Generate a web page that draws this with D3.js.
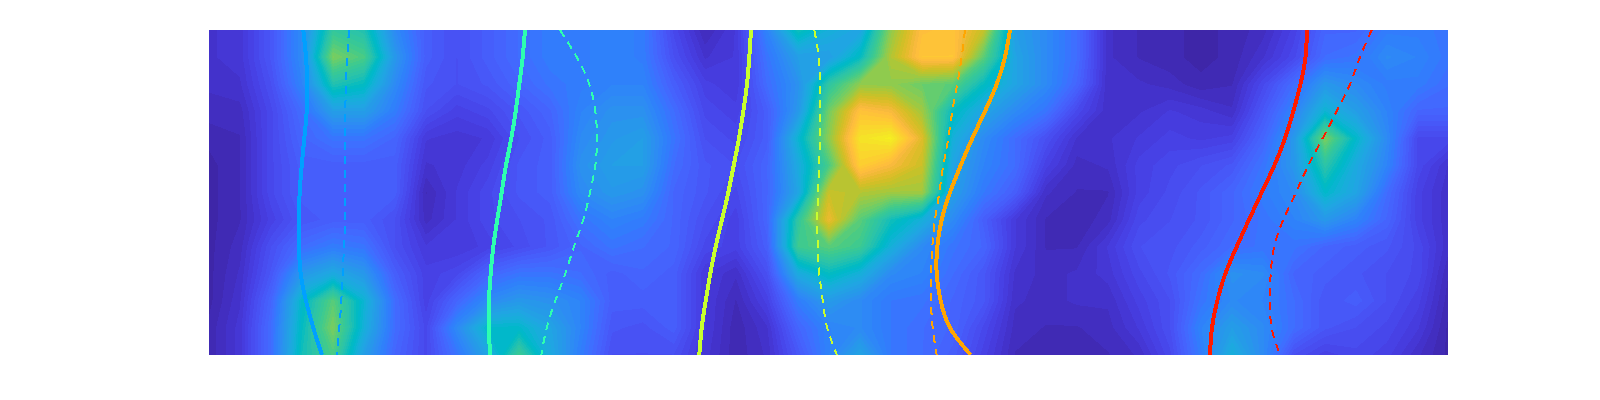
<!DOCTYPE html>
<html><head><meta charset="utf-8">
<script src="https://cdnjs.cloudflare.com/ajax/libs/d3/7.8.5/d3.min.js"></script>
<style>html,body{margin:0;padding:0;background:#fff}svg{display:block}</style>
</head><body><svg id="c" width="1600" height="400"></svg>
<script>
const parula=[[.2422,.1504,.6603],[.2504,.165,.7076],[.2578,.1818,.7511],[.2647,.1978,.7952],[.2706,.2147,.8364],[.2751,.2342,.871],[.2783,.2559,.8991],[.2803,.2782,.9221],[.2813,.3006,.9414],[.281,.3228,.9579],[.2795,.3447,.9717],[.276,.3667,.9829],[.2699,.3892,.9906],[.2602,.4123,.9952],[.244,.4358,.9988],[.2206,.4603,.9973],[.1963,.4847,.9892],[.1834,.5074,.9798],[.1786,.5289,.9682],[.1764,.5499,.952],[.1687,.5703,.9359],[.154,.5902,.9218],[.146,.6091,.9079],[.138,.6276,.8973],[.1248,.6459,.8883],[.1113,.6635,.8763],[.0952,.6798,.8598],[.0689,.6948,.8394],[.0297,.7082,.8163],[.0036,.7203,.7917],[.0067,.7312,.766],[.0433,.7411,.7394],[.0964,.75,.712],[.1408,.7584,.6842],[.1717,.767,.6554],[.1938,.7758,.6251],[.2161,.7843,.5923],[.247,.7918,.5567],[.2906,.7973,.5188],[.3406,.8008,.4789],[.3909,.8029,.4354],[.4456,.8024,.3909],[.5044,.7993,.348],[.5616,.7942,.3045],[.6174,.7876,.2612],[.672,.7793,.2227],[.7242,.7698,.191],[.7738,.7598,.1646],[.8203,.7498,.1535],[.8634,.7406,.1596],[.9035,.733,.1774],[.9393,.7288,.21],[.9728,.7298,.2394],[.9956,.7434,.2371],[.997,.7659,.2199],[.9952,.7893,.2028],[.9892,.8136,.1885],[.9786,.8386,.1766],[.9676,.8639,.1643],[.961,.889,.1537],[.9597,.9135,.1423],[.9628,.9373,.1265],[.9691,.9606,.1064],[.9769,.9839,.0805]];

const heatColumns=[
[6,6,5,4,2,1,1,1,1,1,1,2,2],
[7,7,6,4,3,3,3,3,4,5,6,7,7],
[16,16,14,12,12,12,12,10,14,16,20,22,22],
[30,30,28,22,20,18,18,16,22,34,46,48,50],
[56,66,52,36,24,18,18,18,26,40,62,66,60],
[52,60,48,36,24,18,18,18,24,34,44,42,36],
[30,34,30,26,20,18,18,14,14,18,22,22,20],
[18,18,16,14,8,6,3,4,8,10,10,12,12],
[14,14,14,10,7,7,8,8,8,12,20,30,24],
[18,18,16,12,8,10,12,12,10,20,30,46,38],
[22,22,20,16,14,16,16,14,13,24,34,46,58],
[26,26,24,20,18,18,18,16,16,24,32,38,40],
[26,26,26,28,30,32,30,24,20,22,28,28,26],
[28,28,28,32,34,36,34,28,24,18,18,16,14],
[26,26,28,32,36,36,32,26,22,20,18,15,14],
[12,14,18,22,24,22,20,20,20,18,18,18,14],
[3,6,10,12,14,16,16,14,12,8,8,8,7],
[8,8,8,10,12,14,12,10,10,5,3,2,2],
[28,24,22,18,18,20,20,20,18,14,10,6,5],
[50,36,32,34,44,40,38,55,58,40,26,20,16],
[42,36,55,65,68,60,75,80,62,48,35,28,28],
[38,48,68,85,93,88,72,62,58,42,30,30,38],
[68,72,68,82,96,82,70,50,42,30,25,25,25],
[84,86,64,70,78,75,70,42,30,28,24,22,22],
[85,86,62,48,42,38,36,30,24,22,20,20,18],
[74,62,48,38,30,28,25,18,20,16,16,12,10],
[36,38,38,30,22,22,18,8,8,6,5,4,3],
[30,30,30,24,14,10,5,3,3,4,4,3,2],
[22,22,20,12,6,4,3,2,3,5,5,3,3],
[5,5,5,5,6,5,3,4,8,7,5,4,3],
[3,3,5,6,8,10,10,12,14,12,10,8,5],
[2,2,4,8,10,12,13,14,15,16,14,14,12],
[1,1,2,7,9,14,16,16,18,22,24,28,26],
[2,2,3,5,10,16,20,20,22,32,30,36,42],
[4,6,12,16,20,24,26,24,24,30,28,30,30],
[10,12,22,28,34,34,30,28,24,20,22,22,14],
[20,22,34,44,66,54,46,34,20,18,16,16,10],
[20,24,30,36,46,40,38,28,18,16,18,14,12],
[26,30,26,28,30,28,22,20,16,14,14,12,10],
[26,28,26,20,12,12,10,10,12,12,10,8,5],
[24,24,22,20,12,6,5,5,5,3,2,1,1]
];

const curveRows=[0,1,2,3,4,5,6,7,8,9,10,11,12];
const blueSolid=[94.3,97,98.3,97.7,95.3,92.7,90.7,89.7,90,91.7,97,104.3,113];
const blueDash=[140,138.3,137,136.3,136,136,136,136,135,133.7,132.3,130.3,127.7];
const aquaSolid=[316,313.7,310.3,306.7,302.3,297,292.7,288.3,284.3,281.7,280,280,281];
const aquaDash=[351,367.7,380.3,386.3,388,386.3,381,374.3,365,356.3,346.3,337.7,332.3];
const limeSolid=[542,540.3,538,534.3,530,524.7,519.3,513,506.7,501.3,496.7,492.7,490.3];
const limeDash=[605.3,609.7,611,611,611,610,609,608.3,608.7,610.3,613.7,618.3,628];
const orangeSolid=[801,796,787.7,776,763.3,751.7,741,732.7,728.3,727.7,731.7,741,761.7];
const orangeDash=[756,752.7,748.3,743.3,739.3,734.3,730.3,726,723.3,722,722,723.7,727.7];
const redSolid=[1098,1096.5,1091.5,1084.3,1076,1065.3,1052.7,1040,1027.7,1016.3,1008.3,1003,1001];
const redDash=[1162.7,1151,1141,1127.7,1113.7,1099.3,1087,1074.3,1065.3,1061.7,1061,1062.7,1071];

const seriesColors=["#00a0ff","#2effb0","#c8ff2e","#ffa500","#ff1a00"];
const solids=[blueSolid,aquaSolid,limeSolid,orangeSolid,redSolid];
const dashes=[blueDash,aquaDash,limeDash,orangeDash,redDash];

const L=209,R=1448,T=30,B=355,colStep=31;
const x=d3.scaleLinear().domain([0,1239]).range([L,R]);
const y=d3.scaleLinear().domain([0,12]).range([T,B]);
const color=d3.scaleQuantize().domain([0,100]).range(parula.map(c=>d3.rgb(c[0]*255,c[1]*255,c[2]*255).formatHex()));

const svg=d3.select("#c");
svg.append("defs").append("clipPath").attr("id","plot").append("rect")
  .attr("x",L).attr("y",T).attr("width",R-L).attr("height",B-T);
const g=svg.append("g").attr("clip-path","url(#plot)");

const nCols=heatColumns.length,nRows=heatColumns[0].length;
const flat=d3.range(nRows).flatMap(r=>heatColumns.map(c=>c[r]));
const contours=d3.contours().size([nCols,nRows]).thresholds(d3.range(0,100,100/64))(flat);
const path=d3.geoPath(d3.geoTransform({point(px,py){this.stream.point(x((px-.5)*colStep),y(py-.5));}}));
g.append("g").attr("shape-rendering","crispEdges").selectAll("path").data(contours).join("path")
  .attr("d",path).attr("fill",d=>color(d.value+.01));

const line=d3.line().x(d=>x(d[0])).y(d=>y(d[1])).curve(d3.curveNatural);
const lines=g.append("g").attr("fill","none").attr("shape-rendering","crispEdges");
solids.forEach((s,i)=>lines.append("path").attr("d",line(s.map((v,k)=>[v,curveRows[k]])))
  .attr("stroke",seriesColors[i]).attr("stroke-width",4));
dashes.forEach((s,i)=>lines.append("path").attr("d",line(s.map((v,k)=>[v,curveRows[k]])))
  .attr("stroke",seriesColors[i]).attr("stroke-width",2).attr("stroke-dasharray","8 6"));
</script></body></html>
